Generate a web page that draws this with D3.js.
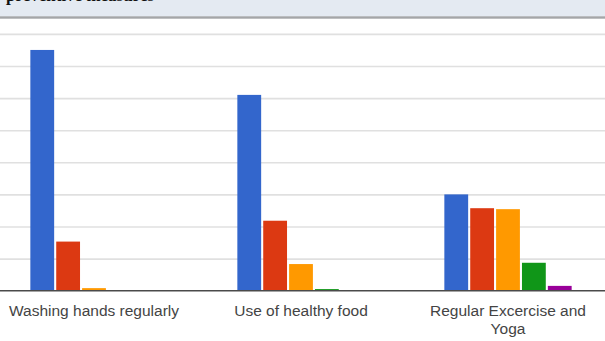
<!DOCTYPE html>
<html>
<head>
<meta charset="utf-8">
<script src="https://cdn.jsdelivr.net/npm/d3@7"></script>
<style>
  html, body { margin: 0; padding: 0; background: #fff; }
  svg { display: block; }
</style>
</head>
<body>
<svg id="chart" width="605" height="341"></svg>
<script>
// ---- data ----
const categories = ["Washing hands regularly", "Use of healthy food", "Regular Excercise and Yoga"];
const categoryLines = [["Washing hands regularly"], ["Use of healthy food"], ["Regular Excercise and", "Yoga"]];
const seriesNames = ["Response 1", "Response 2", "Response 3", "Response 4", "Response 5"];
const series1 = [75, 61, 30];
const series2 = [15.3, 21.8, 25.7];
const series3 = [0.8, 8.3, 25.4];
const series4 = [0, 0.5, 8.7];
const series5 = [0, 0, 1.5];
const seriesColors = ["#3366cc", "#dc3912", "#ff9900", "#109618", "#990099"];
const yTicks = [0, 10, 20, 30, 40, 50, 60, 70, 80];
const titleText = "preventive measures";

const seriesValues = [series1, series2, series3, series4, series5];

const svg = d3.select("#chart");
const W = 605, H = 341;

// header band (title cropped at top edge, as in the reference)
svg.append("rect").attr("x", 0).attr("y", 0).attr("width", W).attr("height", 16.5).attr("fill", "#e4eaf2");
svg.append("rect").attr("x", 0).attr("y", 16.3).attr("width", W).attr("height", 2.4).attr("fill", "#a4a6a8");
svg.append("text").attr("x", 6).attr("y", 1)
  .attr("font-family", "'Liberation Serif', 'Times New Roman', serif")
  .attr("font-weight", "bold").attr("font-size", 17).attr("fill", "#111")
  .text(titleText);

// scales
const y = d3.scaleLinear().domain([0, 80]).range([290.7, 33.9]);
const x0 = d3.scaleBand().domain(categories).range([-9.5, 611.5]).paddingInner(0.375).paddingOuter(0.1875);
const x1 = d3.scaleBand().domain(seriesNames).range([0, x0.bandwidth()]).paddingInner(0.08).paddingOuter(0.04);

// gridlines
const grid = svg.append("g").attr("class", "grid")
  .call(d3.axisLeft(y).tickValues(yTicks.slice(1)).tickSize(-W).tickFormat(""));
grid.select(".domain").remove();
grid.selectAll("line").attr("stroke", "#e0e0e0").attr("stroke-width", 1.6);

// bars
const rows = categories.map((c, i) => ({ cat: c, vals: seriesNames.map((s, j) => ({ s, j, v: seriesValues[j][i] })) }));
const g = svg.append("g").selectAll("g").data(rows).join("g")
  .attr("transform", d => `translate(${x0(d.cat)},0)`);
g.selectAll("rect").data(d => d.vals.filter(e => e.v > 0)).join("rect")
  .attr("x", d => x1(d.s))
  .attr("width", x1.bandwidth())
  .attr("y", d => y(d.v))
  .attr("height", d => y(0) - y(d.v))
  .attr("fill", d => seriesColors[d.j]);

// x axis (baseline + labels)
const xAxis = svg.append("g").attr("transform", `translate(0,${y(0)})`)
  .call(d3.axisBottom(x0).tickSize(0).tickPadding(0));
xAxis.select(".domain").attr("d", `M0,0H${W}`).attr("stroke", "#4a4a4a").attr("stroke-width", 1.6);
xAxis.selectAll(".tick text").each(function(d, i) {
  const t = d3.select(this);
  t.text(null).attr("y", 0).attr("dy", null)
    .attr("font-family", "'Liberation Sans', Arial, sans-serif")
    .attr("font-size", 15.5).attr("fill", "#444");
  categoryLines[i].forEach((line, k) => {
    t.append("tspan").attr("x", 0).attr("y", 25.5 + k * 18.3).text(line);
  });
});
</script>
</body>
</html>
